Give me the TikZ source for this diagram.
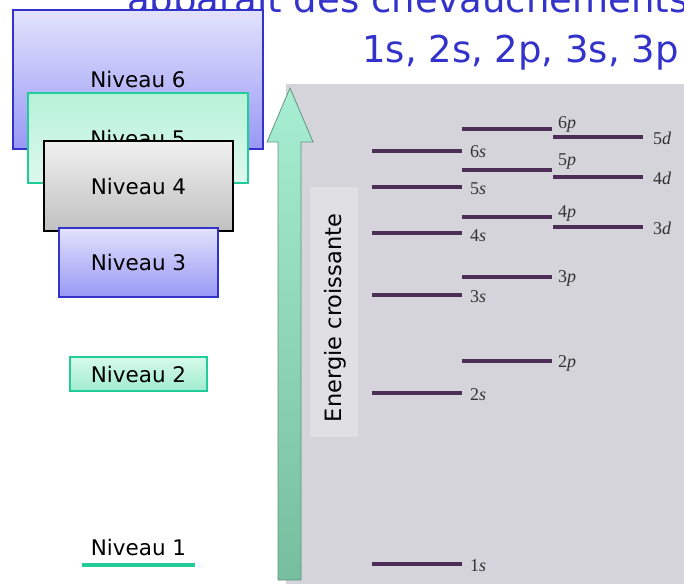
\documentclass[tikz,border=0pt]{standalone}
\usepackage{fontspec}
\setmainfont{DejaVu Sans}
\newfontfamily\levfont{Liberation Serif}
\definecolor{titleblue}{RGB}{51,51,204}
\definecolor{blueb}{RGB}{51,51,204}
\definecolor{bluetop}{RGB}{226,226,252}
\definecolor{bluebot}{RGB}{152,152,246}
\definecolor{greenb}{RGB}{34,204,153}
\definecolor{greentop}{RGB}{182,242,216}
\definecolor{greenbot}{RGB}{222,248,238}
\definecolor{mint2top}{RGB}{214,250,234}
\definecolor{mint2bot}{RGB}{160,236,206}
\definecolor{graytop}{RGB}{240,240,240}
\definecolor{graybot}{RGB}{192,192,192}
\definecolor{panel}{RGB}{212,212,218}
\definecolor{lbox}{RGB}{224,224,226}
\definecolor{lvlc}{RGB}{75,45,85}
\definecolor{arrtop}{RGB}{168,238,210}
\definecolor{arrbot}{RGB}{118,190,158}
\definecolor{arredge}{RGB}{96,150,126}
\begin{document}
\begin{tikzpicture}[x=1pt,y=-1pt,
  titletext/.style={text=titleblue, font=\fontsize{37}{44}\selectfont, inner sep=0},
  nbox/.style={draw, line width=2pt, inner sep=0, font=\fontsize{21.5}{25}\selectfont, text=black},
  bluebox/.style={nbox, draw=blueb, top color=bluetop, bottom color=bluebot},
  lvl/.style={fill=lvlc, minimum height=4.5pt, minimum width=90pt, inner sep=0},
  lab/.style={anchor=west, inner sep=0, font=\levfont\fontsize{18}{20}\selectfont, text=black!80}
]
\useasboundingbox (0,0) rectangle (684,584);

% title
\node[titletext, anchor=base west] (t1) at (127,12) {apparaît des chevauchements};
\node[titletext, anchor=base east] (t2) at (679,62) {1s, 2s, 2p, 3s, 3p};

% left stacked boxes
\node[bluebox, minimum width=250pt, minimum height=139pt] (n6) at (138,79.5) {Niveau 6};
\node[nbox, draw=greenb, top color=greentop, bottom color=greenbot, minimum width=220pt, minimum height=90pt] (n5) at (138,138) {Niveau 5};
\node[nbox, draw=black, top color=graytop, bottom color=graybot, minimum width=189pt, minimum height=90pt] (n4) at (138.5,186) {Niveau 4};
\node[bluebox, minimum width=159pt, minimum height=69pt] (n3) at (138.5,262.5) {Niveau 3};
\node[nbox, draw=greenb, top color=mint2top, bottom color=mint2bot, minimum width=137pt, minimum height=34pt] (n2) at (138.5,374) {Niveau 2};
\node[inner sep=0, font=\fontsize{21.5}{25}\selectfont] (n1) at (138.5,547) {Niveau 1};
\coordinate (u1a) at (82,565);
\coordinate (u1b) at (195,565);
\draw[greenb, line width=4pt] (u1a) -- (u1b);

% right panel
\fill[panel] (286,84) rectangle (684,584);
\node[fill=lbox, minimum width=48pt, minimum height=250pt, inner sep=0] (ebox) at (334,312) {};
\node[rotate=90, inner sep=0, font=\fontsize{22.5}{26}\selectfont] (etxt) at (335,318) {Energie croissante};

% arrow
\coordinate (ab1) at (278,580);
\coordinate (ab2) at (301,580);
\coordinate (tip) at (290,88);
\shade[top color=arrtop, bottom color=arrbot, draw=arredge, line width=0.8pt]
  (ab1) -- (278,142) -- (267,142) -- (tip) -- (313,142) -- (301,142) -- (ab2) -- cycle;

% energy levels: s column
\node[lvl] (s1) at (416.5,564) {};
\node[lvl] (s2) at (416.5,393) {};
\node[lvl] (s3) at (416.5,295) {};
\node[lvl] (s4) at (416.5,233) {};
\node[lvl] (s5) at (416.5,187) {};
\node[lvl] (s6) at (416.5,151) {};
% p column
\node[lvl] (p2) at (507,361) {};
\node[lvl] (p3) at (507,277) {};
\node[lvl] (p4) at (507,217) {};
\node[lvl] (p5) at (507,170) {};
\node[lvl] (p6) at (507,129) {};
% d column
\node[lvl] (d3) at (598,227) {};
\node[lvl] (d4) at (598,177) {};
\node[lvl] (d5) at (598,137) {};

% labels
\node[lab] (ls1) at (470,566) {1\textit{s}};
\node[lab] (ls2) at (470,395) {2\textit{s}};
\node[lab] (ls3) at (470,297) {3\textit{s}};
\node[lab] (ls4) at (470,236) {4\textit{s}};
\node[lab] (ls5) at (470,189) {5\textit{s}};
\node[lab] (ls6) at (470,152) {6\textit{s}};
\node[lab] (lp2) at (558,363) {2\textit{p}};
\node[lab] (lp3) at (558,278) {3\textit{p}};
\node[lab] (lp4) at (558,213) {4\textit{p}};
\node[lab] (lp5) at (558,162) {5\textit{p}};
\node[lab] (lp6) at (558,124) {6\textit{p}};
\node[lab] (ld3) at (653,228) {3\textit{d}};
\node[lab] (ld4) at (653,178) {4\textit{d}};
\node[lab] (ld5) at (653,138) {5\textit{d}};
\end{tikzpicture}
\end{document}
